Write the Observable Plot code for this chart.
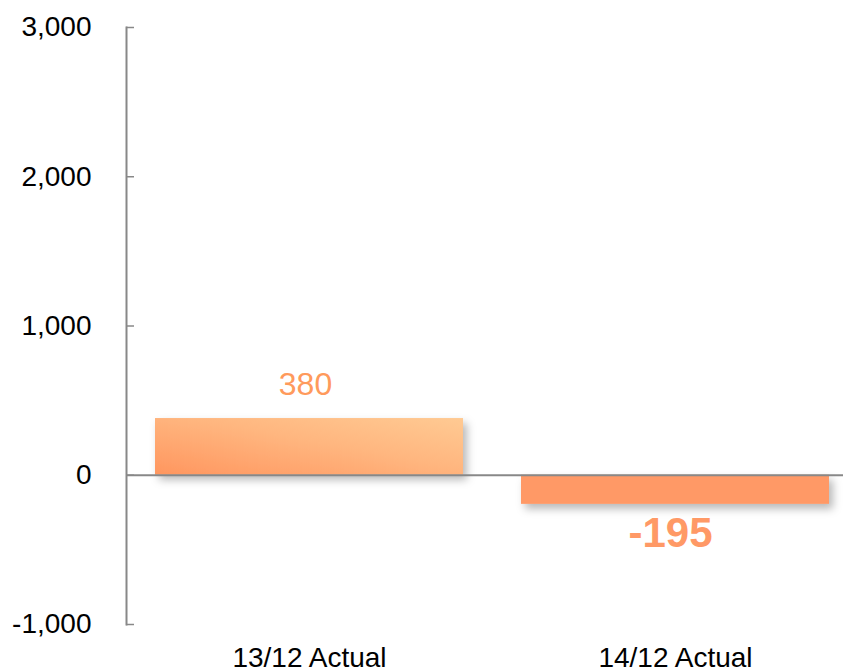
<!DOCTYPE html>
<html>
<head>
<meta charset="utf-8">
<script src="https://cdn.jsdelivr.net/npm/d3@7"></script>
<script src="https://cdn.jsdelivr.net/npm/@observablehq/plot@0.6"></script>
<style>
  body { margin: 0; background: #fff; }
</style>
</head>
<body>
<div id="chart"></div>
<script>
// Period totals
const categories = ["13/12 Actual", "14/12 Actual"];
const values = [380, -195];
const yTicks = [-1000, 0, 1000, 2000, 3000];

const rows = categories.map((c, i) => ({category: c, value: values[i]}));
const fmt = d => d3.format(",")(d).replace("\u2212", "-");

const W = 843, H = 670, ML = 126;

// gradient + drop shadow definitions used by the bars
function defs() {
  const d = d3.create("svg:defs");
  const g1 = d.append("linearGradient").attr("id", "barWarm")
    .attr("x1", 0).attr("y1", 1).attr("x2", 1).attr("y2", 0);
  g1.append("stop").attr("offset", "0%").attr("stop-color", "#ff965f");
  g1.append("stop").attr("offset", "55%").attr("stop-color", "#ffb67f");
  g1.append("stop").attr("offset", "100%").attr("stop-color", "#ffca93");
  const f = d.append("filter").attr("id", "barShadow")
    .attr("x", "-10%").attr("y", "-30%").attr("width", "130%").attr("height", "180%");
  f.append("feDropShadow").attr("dx", 4).attr("dy", 5).attr("stdDeviation", 4)
    .attr("flood-color", "#000").attr("flood-opacity", 0.28);
  return d.node();
}

const chart = Plot.plot({
  width: W,
  height: H,
  marginLeft: ML,
  marginRight: 0,
  marginTop: 27,
  marginBottom: 46,
  style: {fontFamily: "'Liberation Sans', Arial, sans-serif", color: "#000", background: "#fff"},
  x: {type: "band", domain: categories, range: [ML, 858], paddingInner: 0.158, paddingOuter: 0.079, label: null},
  y: {domain: [-1000, 3000], label: null},
  marks: [
    defs,
    Plot.frame({anchor: "left", stroke: "#888", strokeWidth: 2}),
    Plot.ruleY(yTicks, {stroke: "#888", strokeWidth: 1.5, insetRight: W - ML - 8}),
    Plot.barY(rows, {filter: d => d.value >= 0, x: "category", y: "value", fill: "url(#barWarm)"}),
    Plot.barY(rows, {filter: d => d.value < 0, x: "category", y: "value", fill: "#ff9966"}),
    Plot.ruleY([0], {stroke: "#888", strokeWidth: 2}),
    Plot.axisY({ticks: yTicks, tickSize: 0, tickPadding: 35, fontSize: 28, tickFormat: fmt, label: null}),
    Plot.axisX({tickSize: 0, tickPadding: 23, fontSize: 28, label: null}),
    Plot.text(rows, {filter: d => d.value >= 0, x: "category", y: "value", text: d => fmt(d.value),
      fill: "#ff9a5c", fontSize: 32, lineAnchor: "middle", dy: -34, dx: -4}),
    Plot.text(rows, {filter: d => d.value < 0, x: "category", y: "value", text: d => fmt(d.value),
      fill: "#ff9966", fontSize: 42, fontWeight: "bold", lineAnchor: "middle", dy: 29, dx: -5})
  ]
});

// soft shadow under the bars
d3.select(chart).selectAll("g[aria-label='bar']").attr("filter", "url(#barShadow)");

document.getElementById("chart").append(chart);
</script>
</body>
</html>
